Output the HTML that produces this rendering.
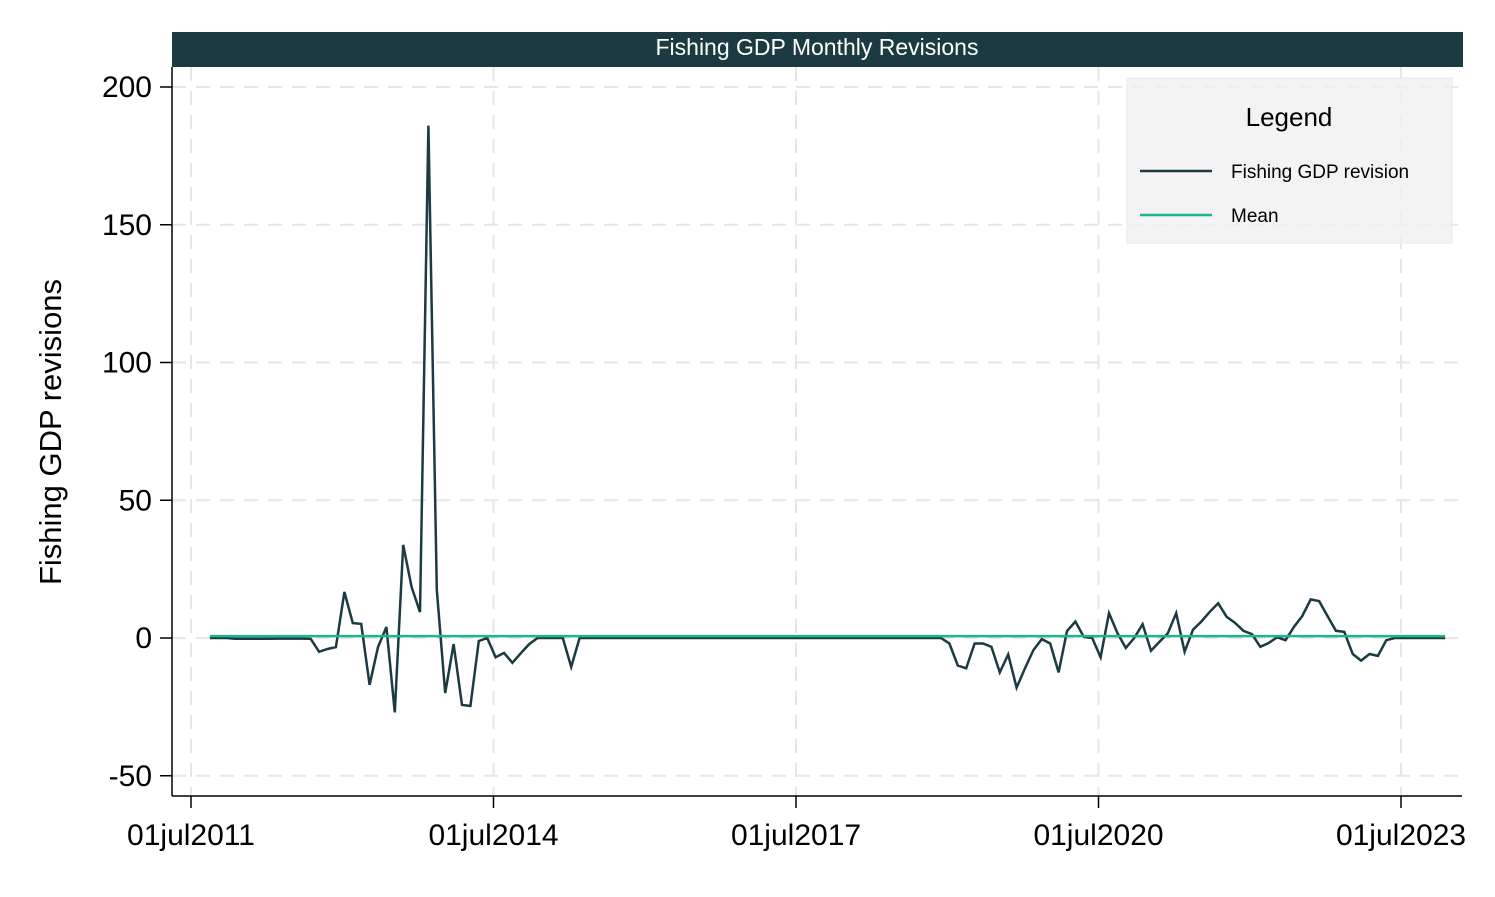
<!DOCTYPE html>
<html><head><meta charset="utf-8"><style>
html,body{margin:0;padding:0;background:#fff;}
svg{display:block;font-family:"Liberation Sans",sans-serif;}
</style></head><body>
<svg id="chart" width="1495" height="897" xmlns="http://www.w3.org/2000/svg">
<rect x="172" y="32" width="1291" height="35" fill="#1b3a41"/>
<text x="817" y="55" text-anchor="middle" fill="#fff" font-size="23">Fishing GDP Monthly Revisions</text>
<g id="grid"></g>
<g id="axes"></g>
<g id="series"></g>
<g>
<rect x="1127" y="78" width="325" height="165" fill="#f0f0f0" fill-opacity="0.8" stroke="#e8e8e8"/>
<text x="1289" y="126" text-anchor="middle" font-size="26" fill="#000">Legend</text>
<line x1="1140" y1="171" x2="1212" y2="171" stroke="#1b3a41" stroke-width="2.5"/>
<text x="1231" y="178" font-size="19" fill="#000">Fishing GDP revision</text>
<line x1="1140" y1="215" x2="1212" y2="215" stroke="#1cb592" stroke-width="2.5"/>
<text x="1231" y="222" font-size="19" fill="#000">Mean</text>
</g>
<text transform="translate(61,432) rotate(-90)" text-anchor="middle" font-size="31" fill="#000">Fishing GDP revisions</text>
</svg>
<script>
const yTicks=[-50,0,50,100,150,200];
const xTickLabels=["01jul2011","01jul2014","01jul2017","01jul2020","01jul2023"];
const xTickMonths=[0,36,72,108,144];
const startMonth=2; // Sep 2011, months since Jul 2011
const revisions=[0,0,0,-0.3,-0.3,-0.3,-0.3,-0.3,-0.2,-0.2,-0.2,-0.2,
-0.3,-5,-4,-3.3,16.7,5.4,5.1,-17,-3.3,4,-27,33.8,18.5,9.4,186,17.5,-20,-2.2,-24.3,-24.7,-1.1,0,-7,-5.4,-9,-5.5,-2.2,0,0,0,0,-10.5,0,
0,0,0,0,0,0,0,0,0,0,0,0,0,0,0,0,0,0,0,0,0,0,0,0,0,0,0,0,0,0,0,0,0,0,0,0,0,0,0,0,0,0,
0,-2,-10,-11,-2,-2,-3.2,-12.5,-6,-18,-11,-4.4,-0.4,-2,-12.5,2.5,6,0.4,0,-7,9,1.8,-3.6,0,5,-4.6,-1.4,1.7,9,-5,3,6,9.5,12.6,7.7,5.5,2.6,1.4,-3.2,-1.8,0.3,-0.8,4,8,14,13.4,8,2.6,2.2,-5.8,-8.2,-5.8,-6.5,-0.8,0,0,0,0,0,0,0];
const meanValue=[0.7];
const NS="http://www.w3.org/2000/svg";
const MW=302.5/36;
const xs=m=>191+(m+0.25)*MW;
const xt=m=>191+m*MW;
const ys=v=>638-v*(551/200);
function mk(tag,attrs,parent){const e=document.createElementNS(NS,tag);for(const k in attrs)e.setAttribute(k,attrs[k]);document.getElementById(parent).appendChild(e);return e;}
yTicks.forEach(t=>{
 const g=mk('line',{x1:172,x2:1462,y1:ys(t),y2:ys(t),stroke:'#e6e6e6','stroke-width':2,'stroke-dasharray':'14 10'},'grid');
 
 
 const tk=mk('line',{x1:160,x2:172,y1:ys(t),y2:ys(t),stroke:'#000','stroke-width':1.5},'axes');
 
 
 const tx=mk('text',{x:152,y:ys(t)+10,'text-anchor':'end','font-size':30,fill:'#000'},'axes');
 tx.textContent=t;
 
 
});
xTickMonths.forEach((m,i)=>{
 const g=mk('line',{x1:xt(m),x2:xt(m),y1:67,y2:796,stroke:'#e6e6e6','stroke-width':2,'stroke-dasharray':'14 10'},'grid');
 
 
 const tk=mk('line',{x1:xt(m),x2:xt(m),y1:796,y2:808,stroke:'#000','stroke-width':1.5},'axes');
 
 
 const tx=mk('text',{x:xt(m),y:845,'text-anchor':'middle','font-size':30,fill:'#000'},'axes');
 tx.textContent=xTickLabels[i];
 
 
});
const ya=mk('line',{x1:172,x2:172,y1:67,y2:796,stroke:'#000','stroke-width':1.5},'axes');


const xa=mk('line',{x1:172,x2:1462,y1:796,y2:796,stroke:'#000','stroke-width':1.5},'axes');


const pts=revisions.map((v,i)=>xs(startMonth+i).toFixed(1)+','+ys(v).toFixed(1)).join(' ');
const pl=mk('polyline',{points:pts,fill:'none',stroke:'#1b3a41','stroke-width':2.5,'stroke-linejoin':'miter'},'series');


const last=startMonth+revisions.length-1;
const ml=mk('line',{x1:xs(startMonth),x2:xs(last),y1:ys(meanValue[0]),y2:ys(meanValue[0]),stroke:'#1cb592','stroke-width':2.5},'series');


</script>
</body></html>
